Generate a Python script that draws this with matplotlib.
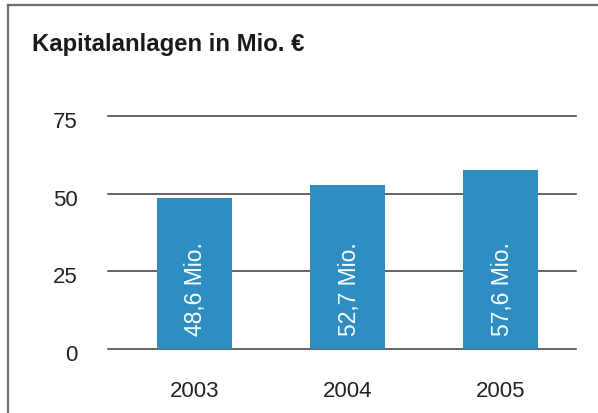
import matplotlib.pyplot as plt
import matplotlib.transforms as mtransforms
from matplotlib.lines import Line2D

plt.rcParams['font.family'] = ['Liberation Sans', 'DejaVu Sans']

jahre = ['2003', '2004', '2005']
werte = [48.6, 52.7, 57.6]
beschriftung = ['48,6 Mio.', '52,7 Mio.', '57,6 Mio.']
y_ticks = [0, 25, 50, 75]

W, H = 598, 413
fig = plt.figure(figsize=(W / 100, H / 100), dpi=100)
ax = fig.add_axes([108 / W, (H - 349) / H, 468 / W, 233 / H])

x = range(len(jahre))
ax.bar(x, werte, width=0.49, color='#2E8EC2', zorder=2)
for y in y_ticks:
    ax.axhline(y, color='#3a3a3a', lw=1.1, zorder=1, clip_on=False)

for i, (v, t) in enumerate(zip(werte, beschriftung)):
    ax.text(i + 0.01, 4.3, t, rotation=90, ha='center', va='bottom',
            color='white', fontsize=16.5)

ax.set_xlim(-0.565, 2.493)
ax.set_ylim(0, 75)
ax.set_xticks(list(x))
ax.set_xticklabels(jahre, fontsize=16, color='#222222')
ax.set_yticks(y_ticks)
ax.set_yticklabels([str(t) for t in y_ticks], fontsize=16, color='#222222')
ax.tick_params(axis='x', length=0, pad=23)
ax.tick_params(axis='y', length=0, pad=22)
verschiebung = mtransforms.ScaledTranslation(0, -4 / 100, fig.dpi_scale_trans)
for lbl in ax.get_yticklabels():
    lbl.set_transform(lbl.get_transform() + verschiebung)
for s in ax.spines.values():
    s.set_visible(False)

fig.text(32 / W, 1 - 44 / H, 'Kapitalanlagen in Mio. €', fontsize=17.2,
         fontweight='bold', va='center', ha='left', color='#1a1a1a')

# Rahmen oben und links
fig.add_artist(Line2D([8 / W, 1], [1 - 5 / H, 1 - 5 / H], color='#6e6e6e', lw=1.6))
fig.add_artist(Line2D([8 / W, 8 / W], [1 - 5 / H, 0], color='#6e6e6e', lw=1.6))

fig.savefig('out.png', dpi=100)
